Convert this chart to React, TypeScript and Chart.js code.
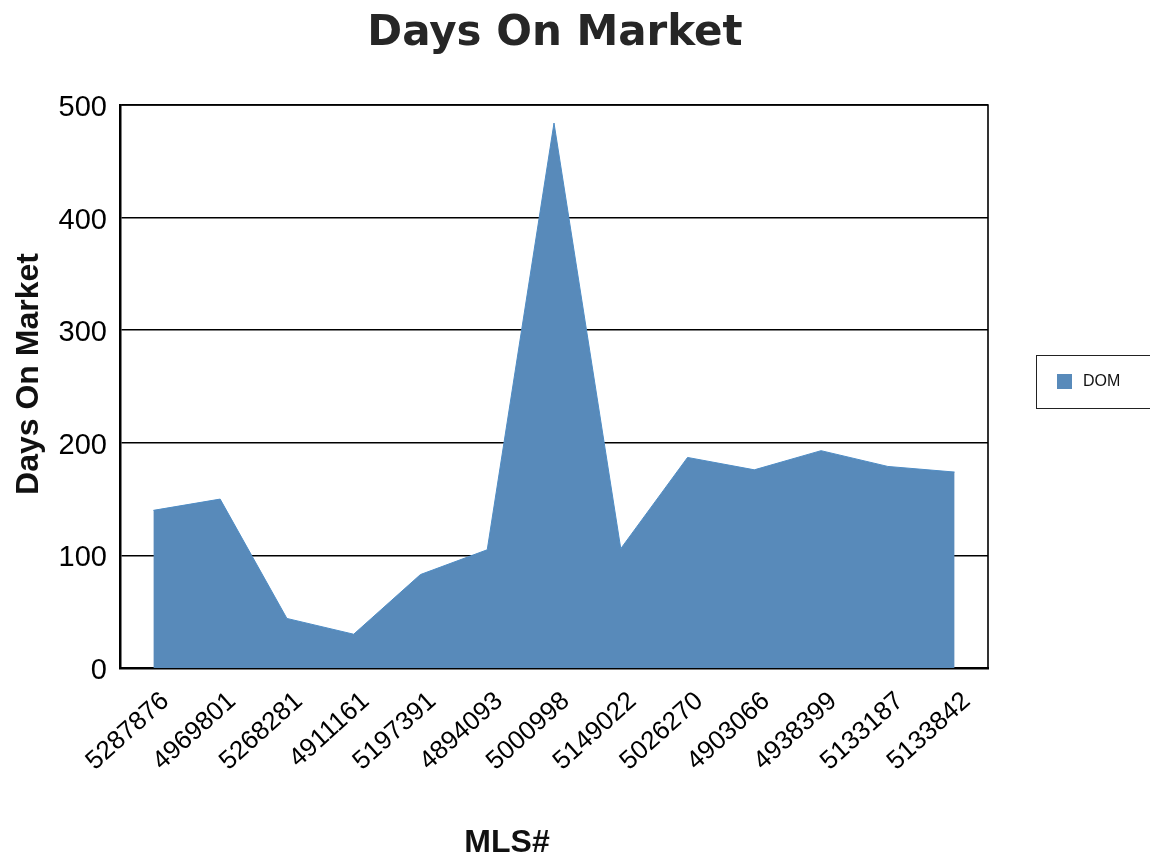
import React, { useEffect, useRef } from "react";
import { Chart, registerables } from "chart.js";

Chart.register(...registerables);

const categories: string[] = [
  "5287876", "4969801", "5268281", "4911161", "5197391", "4894093", "5000998",
  "5149022", "5026270", "4903066", "4938399", "5133187", "5133842",
];
const domValues: number[] = [140, 150, 44, 30, 83, 105, 484, 106, 187, 176, 193, 179, 174];
const seriesName = "DOM";
const chartTitle = "Days On Market";
const yAxisTitle = "Days On Market";
const xAxisTitle = "MLS#";
const yTicks: number[] = [0, 100, 200, 300, 400, 500];

const FILL = "#588aba";

const textPlugin = {
  id: "customText",
  afterDraw(chart: any) {
    const { ctx, chartArea } = chart;
    ctx.save();
    // plot border (top & right)
    ctx.strokeStyle = "#000";
    ctx.lineWidth = 1.6;
    ctx.beginPath();
    ctx.moveTo(chartArea.left, chartArea.top);
    ctx.lineTo(chartArea.right, chartArea.top);
    ctx.lineTo(chartArea.right, chartArea.bottom);
    ctx.stroke();

    // title
    ctx.fillStyle = "#262626";
    ctx.font = "bold 42px 'DejaVu Sans', Verdana, sans-serif";
    ctx.textAlign = "center";
    ctx.textBaseline = "middle";
    ctx.fillText(chartTitle, 555, 34);

    // y-axis title
    ctx.fillStyle = "#111";
    ctx.font = "bold 32px 'Liberation Sans', Arial, sans-serif";
    ctx.save();
    ctx.translate(29, 374);
    ctx.rotate(-Math.PI / 2);
    ctx.fillText(yAxisTitle, 0, 0);
    ctx.restore();

    // x-axis title
    ctx.fillText(xAxisTitle, 507, 843);

    // legend
    ctx.strokeStyle = "#222";
    ctx.lineWidth = 1;
    ctx.strokeRect(1036.5, 355.5, 130, 53);
    ctx.fillStyle = FILL;
    ctx.fillRect(1057, 374, 15, 15);
    ctx.fillStyle = "#111";
    ctx.font = "16px 'Liberation Sans', Arial, sans-serif";
    ctx.textAlign = "left";
    ctx.fillText(seriesName, 1083, 382);
    ctx.restore();
  },
};

export default function App() {
  const ref = useRef<HTMLCanvasElement | null>(null);

  useEffect(() => {
    document.body.style.margin = "0";
    const canvas = ref.current;
    if (!canvas) return;
    const chart = new Chart(canvas, {
      type: "line",
      data: {
        labels: categories,
        datasets: [
          {
            label: seriesName,
            data: domValues,
            fill: "origin",
            backgroundColor: FILL,
            borderColor: "#4f8cc4",
            borderWidth: 1,
            pointRadius: 0,
            tension: 0,
          },
        ],
      },
      options: {
        animation: false,
        responsive: false,
        maintainAspectRatio: false,
        layout: { padding: { top: 105, right: 162, left: 0, bottom: 0 } },
        plugins: {
          legend: { display: false },
          title: { display: false },
          tooltip: { enabled: false },
        },
        scales: {
          x: {
            offset: true,
            grid: { display: false, drawTicks: false },
            border: { display: true, color: "#000", width: 2.5 },
            ticks: {
              color: "#000",
              font: { family: "'Liberation Sans', Arial, sans-serif", size: 26 },
              minRotation: 42,
              maxRotation: 42,
              padding: 18,
              labelOffset: 12,
              autoSkip: false,
            },
            afterFit: (scale: any) => {
              scale.height = 190;
            },
          },
          y: {
            min: 0,
            max: 500,
            afterBuildTicks: (scale: any) => {
              scale.ticks = yTicks.map((v) => ({ value: v }));
            },
            grid: { color: "#000", lineWidth: 1.5, drawTicks: false },
            border: { display: true, color: "#000", width: 2.5 },
            ticks: {
              color: "#000",
              font: { family: "'Liberation Sans', Arial, sans-serif", size: 29 },
              padding: 13,
              labelOffset: 3,
            },
            afterFit: (scale: any) => {
              scale.width = 120;
            },
          },
        },
      },
      plugins: [textPlugin],
    });
    return () => chart.destroy();
  }, []);

  return (
    <div style={{ width: 1150, height: 858, background: "#fff" }}>
      <canvas ref={ref} width={1150} height={858} />
    </div>
  );
}
